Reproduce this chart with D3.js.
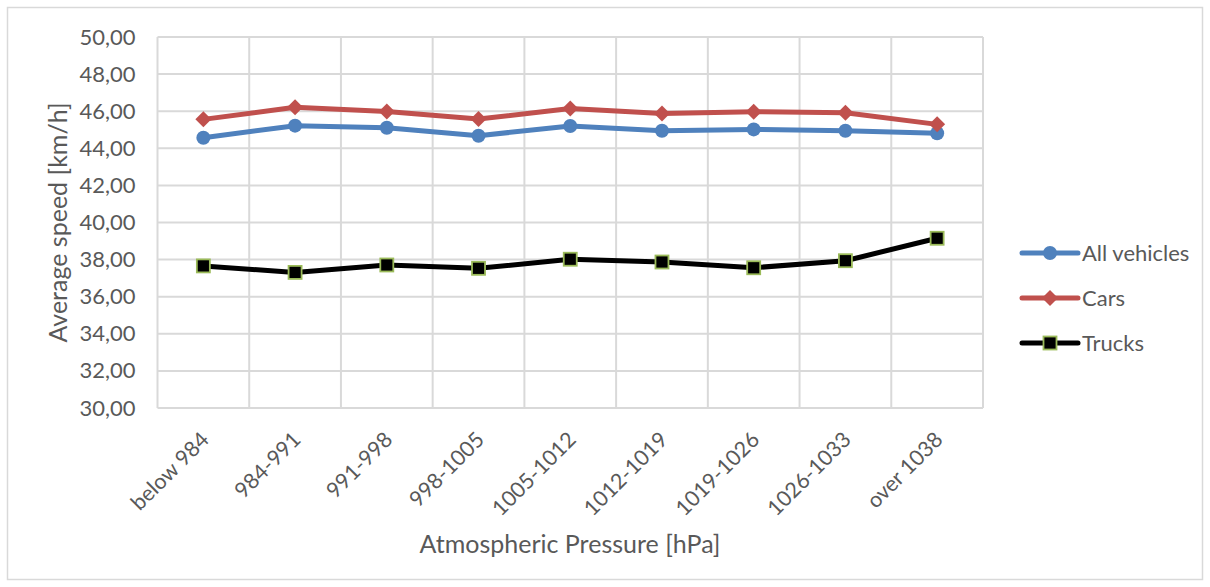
<!DOCTYPE html>
<html>
<head>
<meta charset="utf-8">
<script src="https://cdn.jsdelivr.net/npm/d3@7"></script>
<style>
  body { margin: 0; background: #fff; }
  text { font-family: Lato, "Open Sans", sans-serif; fill: #595959; }
  .grid line { stroke: #d9d9d9; stroke-width: 2; }
</style>
</head>
<body>
<svg width="1210" height="587"></svg>
<script>
var categories = ["below 984", "984-991", "991-998", "998-1005", "1005-1012",
                  "1012-1019", "1019-1026", "1026-1033", "over 1038"];
var allVehicles = [44.57, 45.22, 45.11, 44.68, 45.20, 44.95, 45.02, 44.95, 44.81];
var cars = [45.56, 46.21, 45.99, 45.58, 46.14, 45.87, 45.97, 45.92, 45.29];
var trucks = [37.66, 37.31, 37.71, 37.53, 38.02, 37.87, 37.56, 37.94, 39.15];
var yTicks = [30, 32, 34, 36, 38, 40, 42, 44, 46, 48, 50];

var series = [
    {name: "All vehicles", values: allVehicles, color: "#4f81bd", marker: "circle"},
    {name: "Cars", values: cars, color: "#c0504d", marker: "diamond"},
    {name: "Trucks", values: trucks, color: "#000000", marker: "square"}
];

var svg = d3.select("svg");

// chart border
svg.append("rect")
    .attr("x", 7.5).attr("y", 7.5)
    .attr("width", 1195).attr("height", 572)
    .attr("fill", "none").attr("stroke", "#d9d9d9").attr("stroke-width", 1.5);

var plot = {left: 157.5, top: 37, right: 983, bottom: 408};

var x = d3.scaleBand()
    .domain(categories)
    .range([plot.left, plot.right]);
var y = d3.scaleLinear()
    .domain([30, 50])
    .range([plot.bottom, plot.top]);

var fmt = function(d) { return d3.format(".2f")(d).replace(".", ","); };

// horizontal gridlines
svg.append("g").attr("class", "grid")
    .selectAll("line")
    .data(yTicks)
    .enter().append("line")
    .attr("x1", plot.left).attr("x2", plot.right)
    .attr("y1", function(d) { return y(d); })
    .attr("y2", function(d) { return y(d); });

// vertical gridlines between categories
var bounds = categories.map(function(c) { return x(c); }).concat([plot.right]);
svg.append("g").attr("class", "grid")
    .selectAll("line")
    .data(bounds)
    .enter().append("line")
    .attr("x1", function(d) { return d; }).attr("x2", function(d) { return d; })
    .attr("y1", plot.top).attr("y2", plot.bottom);

// y axis labels
var yAxis = svg.append("g")
    .attr("transform", "translate(" + plot.left + ",0)")
    .call(d3.axisLeft(y).tickValues(yTicks).tickFormat(fmt).tickSize(0).tickPadding(22));
yAxis.select(".domain").remove();
yAxis.selectAll("text")
    .style("font-family", "Lato, sans-serif")
    .style("font-size", "22px")
    .attr("fill", "#595959");

// x axis labels
var xAxis = svg.append("g")
    .attr("transform", "translate(0," + plot.bottom + ")")
    .call(d3.axisBottom(x).tickSize(0));
xAxis.select(".domain").remove();
xAxis.selectAll("text")
    .style("font-family", "Lato, sans-serif")
    .style("font-size", "21.5px")
    .attr("fill", "#595959")
    .attr("text-anchor", "end")
    .attr("y", 0).attr("dy", 0)
    .attr("transform", "translate(7,33) rotate(-45)");

// axis titles
svg.append("text")
    .attr("x", 570).attr("y", 553)
    .attr("text-anchor", "middle")
    .style("font-size", "25px")
    .text("Atmospheric Pressure [hPa]");
svg.append("text")
    .attr("transform", "translate(67," + ((plot.top + plot.bottom) / 2) + ") rotate(-90)")
    .attr("text-anchor", "middle")
    .style("font-size", "25px")
    .text("Average speed [km/h]");

var cx = function(i) { return x(categories[i]) + x.bandwidth() / 2; };

function drawMarker(g, s, px, py) {
    if (s.marker === "circle") {
        g.append("circle").attr("cx", px).attr("cy", py).attr("r", 7)
            .attr("fill", s.color);
    } else if (s.marker === "diamond") {
        g.append("path")
            .attr("d", "M" + px + "," + (py - 8) + "L" + (px + 8) + "," + py +
                       "L" + px + "," + (py + 8) + "L" + (px - 8) + "," + py + "Z")
            .attr("fill", s.color);
    } else {
        g.append("rect").attr("x", px - 6.5).attr("y", py - 6.5)
            .attr("width", 13).attr("height", 13)
            .attr("fill", "#000").attr("stroke", "#9bbb59").attr("stroke-width", 1.8);
    }
}

var line = d3.line()
    .x(function(d, i) { return cx(i); })
    .y(function(d) { return y(d); });

series.forEach(function(s) {
    var g = svg.append("g");
    g.append("path")
        .datum(s.values)
        .attr("d", line)
        .attr("fill", "none")
        .attr("stroke", s.color)
        .attr("stroke-width", 5)
        .attr("stroke-linejoin", "round");
    s.values.forEach(function(v, i) { drawMarker(g, s, cx(i), y(v)); });
});

// legend
var legend = svg.append("g").attr("transform", "translate(1022,253)");
series.forEach(function(s, i) {
    var g = legend.append("g").attr("transform", "translate(0," + (i * 45) + ")");
    g.append("line")
        .attr("x1", 0).attr("x2", 56).attr("y1", 0).attr("y2", 0)
        .attr("stroke", s.color).attr("stroke-width", 5).attr("stroke-linecap", "round");
    drawMarker(g, s, 28, 0);
    g.append("text")
        .attr("x", 60).attr("y", 0).attr("dy", "0.35em")
        .style("font-size", "22px")
        .text(s.name);
});
</script>
</body>
</html>
